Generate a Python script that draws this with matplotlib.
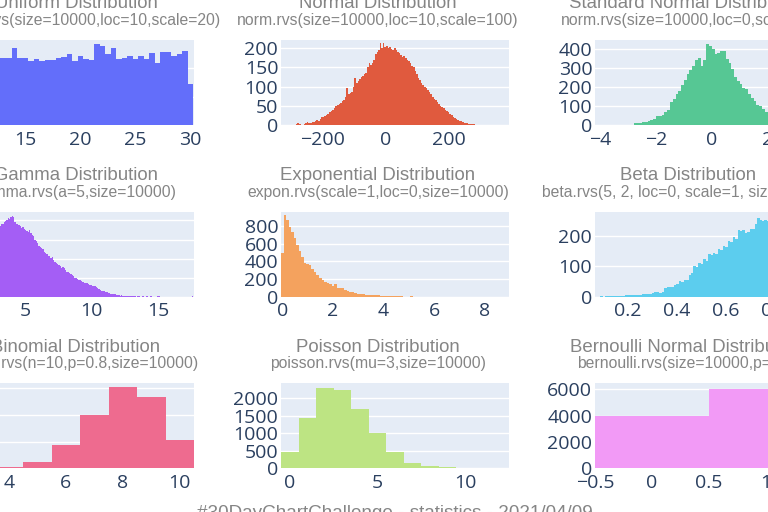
import matplotlib as mpl
mpl.use('Agg')
import matplotlib.pyplot as plt

# bin counts
uniform_counts = [230, 248, 240, 252, 245, 238, 238, 238, 273, 238, 238, 226, 232, 226,
                  230, 230, 238, 241, 250, 226, 244, 234, 230, 285, 279, 250, 273, 232,
                  238, 244, 234, 244, 234, 255, 220, 258, 258, 244, 250, 261, 144]

normal_counts = [3, 5, 2, 0, 1, 3, 5, 7, 6, 6, 8, 9, 10, 12, 11, 16, 20, 22, 24, 27, 28,
                 33, 37, 39, 45, 50, 52, 55, 58, 62, 66, 72, 95, 80, 82, 86, 100, 122, 108,
                 115, 120, 124, 128, 133, 136, 150, 160, 156, 162, 168, 184, 190, 196, 212,
                 200, 212, 204, 206, 200, 203, 198, 196, 200, 196, 190, 186, 182, 178, 180,
                 175, 170, 166, 160, 154, 150, 141, 132, 122, 118, 110, 104, 100, 96, 90,
                 85, 80, 73, 68, 64, 60, 54, 50, 46, 43, 40, 37, 33, 28, 25, 20, 17, 16,
                 13, 11, 10, 9, 6, 5, 4, 3, 3, 2, 2, 1, 1]

std_normal_counts = [10, 11, 13, 15, 17, 20, 28, 34, 46, 50, 54, 68, 78, 120, 135, 165, 180,
                     210, 238, 270, 290, 310, 345, 356, 310, 345, 426, 417, 402, 376, 382,
                     392, 392, 347, 330, 298, 255, 235, 215, 198, 189, 165, 140, 125, 108,
                     98, 84, 70, 62, 52, 44, 36, 30, 24, 19, 15, 12, 9, 7, 5, 4, 3, 2, 2,
                     1, 1, 0, 1]

gamma_counts = [2, 3, 5, 6,
                8, 10, 13, 17, 21, 26, 32, 38, 45, 52,
                60, 70, 82, 95, 108, 120, 130, 140, 150, 160,
                170, 186, 192, 190, 197, 199, 202, 206, 204, 208,
                212, 210, 196, 190, 192, 188, 186, 180, 184, 178,
                176, 172, 170, 175, 166, 163, 158, 150, 146, 140,
                134, 130, 128, 124, 118, 115, 112, 108, 106, 102,
                104, 96, 92, 88, 86, 84, 80, 76, 78, 74,
                70, 66, 64, 62, 60, 58, 54, 50, 48, 46,
                44, 45, 40, 38, 37, 36, 35, 34, 32, 30,
                28, 29, 27, 26, 24, 20, 18, 16, 15, 14,
                12, 13, 11, 10, 8, 7, 6, 6, 5, 4,
                4, 3, 4, 3, 2, 2, 1, 2, 1, 1,
                1, 2, 1, 0, 1, 1, 0, 0, 1, 0,
                0, 1, 0, 0, 1, 0, 0, 0, 0, 1,
                1, 0, 0, 0, 0, 0, 0, 0, 0, 0,
                0, 0, 0, 0, 0, 0, 0, 0, 0, 0,
                0, 0, 0, 0, 0, 1]

expon_counts = [490, 925, 868, 792, 736, 660, 585, 517, 453, 377,
                370, 358, 313, 275, 245, 215, 189, 162, 151, 140,
                125, 140, 102, 94, 94, 75, 64, 57, 49, 38,
                30, 26, 26, 23, 23, 19, 17, 15, 14, 12,
                11, 10, 9, 8, 7, 6, 4, 3, 2, 2,
                1, 3, 1, 0, 1, 0, 0, 1, 0, 0,
                0, 0, 1, 0, 0, 0, 0, 0, 0, 0,
                0, 0, 0, 0, 0, 0, 0, 0, 0, 0,
                0, 0, 0, 0, 0, 0, 0, 0, 0, 1]

beta_counts = [1, 0, 0, 1,
               0, 1, 1, 2, 1, 2, 3, 2, 3, 4,
               4, 5, 5, 6, 5, 7, 8, 8, 10, 9,
               12, 17, 16, 13, 14, 30, 31, 33, 32, 38,
               40, 50, 48, 56, 54, 70, 78, 100, 98, 111,
               108, 122, 118, 139, 135, 144, 140, 156, 152, 167,
               162, 183, 178, 194, 190, 217, 215, 218, 208, 211,
               222, 220, 239, 258, 250, 248, 252, 246, 250, 245,
               248, 240, 242, 232, 225, 215, 205, 190, 175, 160,
               145, 128, 110, 92, 75, 58, 42, 28, 15, 5]

binom_counts = [8, 62, 230, 875, 2000, 3040, 2690, 1060]          # k = 3..10
poisson_counts = [476, 1428, 2285, 2237, 1695, 1019, 467, 162, 67, 29, 8, 2, 1]  # k = 0..12
bernoulli_counts = [3990, 6010]                                    # k = 0, 1

titles = ["Uniform Distribution", "Normal Distribution", "Standard Normal Distribution",
          "Gamma Distribution", "Exponential Distribution", "Beta Distribution",
          "Binomial Distribution", "Poisson Distribution", "Bernoulli Normal Distribution"]
subtitles = ["uniform.rvs(size=10000,loc=10,scale=20)",
             "norm.rvs(size=10000,loc=10,scale=100)",
             "norm.rvs(size=10000,loc=0,scale=1)",
             "gamma.rvs(a=5,size=10000)",
             "expon.rvs(scale=1,loc=0,size=10000)",
             "beta.rvs(5, 2, loc=0, scale=1, size=10000)",
             "binom.rvs(n=10,p=0.8,size=10000)",
             "poisson.rvs(mu=3,size=10000)",
             "bernoulli.rvs(size=10000,p=0.6)"]

colors = ['#636EFA', '#E05A3E', '#56C794', '#A45EF5', '#F4A25E',
          '#5CCDEE', '#EE6B8F', '#BDE483', '#F29AF6']

# (counts, first bin edge, bin width, xlim, ylim, xticks, yticks)
panels = [
    (uniform_counts, 9.77, 0.5, (9.63, 30.36), (0, 300), [10, 15, 20, 25, 30], [0, 100, 200]),
    (normal_counts, -285, 5, (-331.6, 388.3), (0, 221), [-200, 0, 200], [0, 50, 100, 150, 200]),
    (std_normal_counts, -2.8, 0.1, (-4.19, 3.99), (0, 449), [-4, -2, 0, 2], [0, 100, 200, 300, 400]),
    (gamma_counts, 0.6, 0.1, (0.57, 17.68), (0, 223), [5, 10, 15], [0, 50, 100, 150, 200]),
    (expon_counts, -0.05, 0.1, (-0.05, 8.95), (0, 962), [0, 2, 4, 6, 8], [0, 200, 400, 600, 800]),
    (beta_counts, 0.06, 0.01, (0.068, 0.999), (0, 278), [0.2, 0.4, 0.6, 0.8], [0, 100, 200]),
    (binom_counts, 2.5, 1, (2.5, 10.5), (0, 3190), [4, 6, 8, 10], [0, 1000, 2000, 3000]),
    (poisson_counts, -0.5, 1, (-0.5, 12.5), (0, 2430), [0, 5, 10], [0, 500, 1000, 1500, 2000]),
    (bernoulli_counts, -0.5, 1, (-0.5, 1.5), (0, 6456), [-0.5, 0, 0.5, 1], [0, 2000, 4000, 6000]),
]

BG = '#E5ECF6'
TICK = '#2a3f5f'
GRAY = '#858585'
FW, FH = 768.0, 512.0

col_left = [-34, 281, 595]
row_top = [40, 211.7, 383.3]
col_text = [76, 378, 688]
W, H = 228, 85


def fmt(v):
    return ('%g' % v).replace('-', '\u2212')


plt.rcParams['font.family'] = ['Open Sans', 'DejaVu Sans']
fig = plt.figure(figsize=(7.68, 5.12), dpi=100)

for i, (counts, start, width, xlim, ylim, xticks, yticks) in enumerate(panels):
    r, c = divmod(i, 3)
    ax = fig.add_axes([col_left[c] / FW, 1 - (row_top[r] + H) / FH, W / FW, H / FH])
    ax.set_facecolor(BG)
    edges = [start + width * k for k in range(len(counts) + 1)]
    ax.stairs(counts, edges, fill=True, color=colors[i], linewidth=0)
    ax.set_xlim(*xlim)
    ax.set_ylim(*ylim)
    ax.set_xticks(xticks, [fmt(v) for v in xticks])
    ax.set_yticks(yticks, [fmt(v) for v in yticks])
    ax.set_axisbelow(True)
    ax.yaxis.grid(True, color='white', linewidth=1)
    for s in ax.spines.values():
        s.set_visible(False)
    ax.tick_params(axis='both', length=0, labelsize=14, colors=TICK)
    ax.tick_params(axis='x', pad=4)
    ax.tick_params(axis='y', pad=2)

    fig.text(col_text[c] / FW, 1 - (row_top[r] - 31.5) / FH, titles[i],
             ha='center', va='baseline', fontsize=13.4, color=GRAY,
             family=['Liberation Sans', 'DejaVu Sans'])
    fig.text(col_text[c] / FW, 1 - (row_top[r] - 15) / FH, subtitles[i],
             ha='center', va='baseline', fontsize=11.3, color=GRAY,
             family=['Liberation Sans', 'DejaVu Sans'])

fig.text(395 / FW, 1 - 518 / FH, "#30DayChartChallenge - statistics - 2021/04/09",
         ha='center', va='baseline', fontsize=13.6, color=GRAY,
         family=['Liberation Sans', 'DejaVu Sans'])

fig.savefig('out.png', dpi=100)
